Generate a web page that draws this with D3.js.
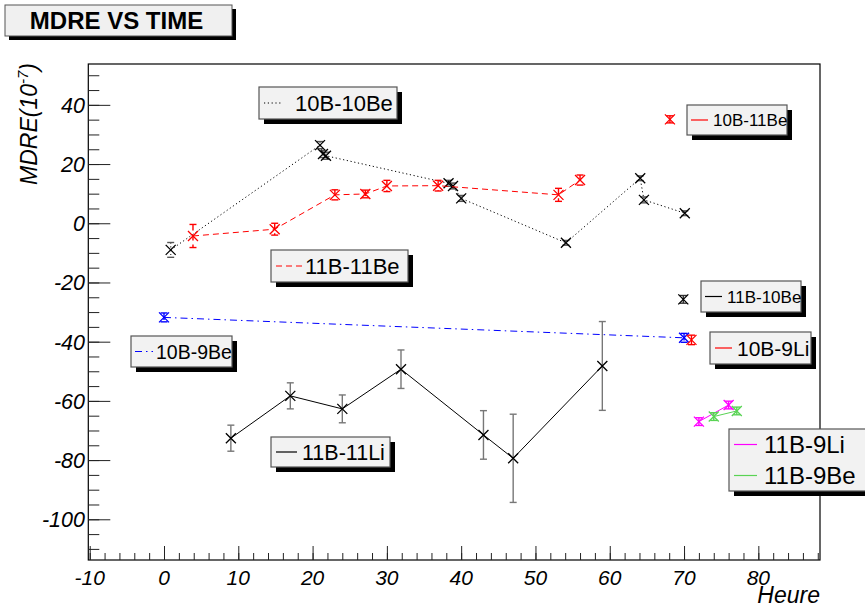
<!DOCTYPE html>
<html>
<head>
<meta charset="utf-8">
<script src="https://cdn.jsdelivr.net/npm/d3@7"></script>
<style>
  html, body { margin: 0; padding: 0; background: #ffffff; }
  svg { display: block; font-family: "Liberation Sans", Arial, Helvetica, sans-serif; }
</style>
</head>
<body>
<svg id="chart" width="865" height="609"></svg>
<script>
// MDRE (in units of 1e-7) measured against elapsed time in hours.
// Each entry: [hour, mdre, error]
const pts10B10Be = [[0.9, -9.0, 2.5], [21.0, 26.4, 1.2], [21.4, 23.4, 1.2], [21.8, 22.8, 1.2],
                    [38.3, 13.5, 1.0], [38.9, 12.6, 1.0], [40.0, 8.4, 1.0], [54.1, -6.6, 0.8],
                    [64.1, 15.2, 0.8], [64.6, 7.9, 1.0], [70.1, 3.4, 0.8]];
const pts11B11Be = [[3.9, -4.3, 3.9], [14.9, -2.0, 2.0], [23.0, 9.6, 1.7], [27.1, 9.9, 1.3],
                    [30.0, 12.6, 1.9], [36.9, 12.7, 1.8], [53.1, 9.6, 2.2], [56.0, 14.6, 1.7]];
const pts10B11Be = [[68.1, 35.1, 1.2]];
const pts11B10Be = [[69.9, -25.7, 1.3]];
const pts10B9Be  = [[0.0, -31.8, 1.5], [70.0, -38.7, 1.5]];
const pts10B9Li  = [[71.0, -39.4, 1.6]];
const pts11B9Li  = [[72.0, -67.0, 1.3], [76.0, -61.4, 1.3]];
const pts11B9Be  = [[74.0, -65.3, 1.3], [77.1, -63.4, 1.3]];
const pts11B11Li = [[9.0, -72.6, 4.4], [17.0, -58.3, 4.4], [24.0, -62.7, 4.7], [31.9, -49.3, 6.5],
                    [43.0, -71.5, 8.2], [47.0, -79.4, 14.9], [59.0, -48.2, 15.0]];

const xTickValues = [-10, 0, 10, 20, 30, 40, 50, 60, 70, 80];
const yTickValues = [-100, -80, -60, -40, -20, 0, 20, 40];

const titleText = "MDRE VS TIME";
const xTitle = "Heure";
const yTitleMain = "MDRE(10";
const yTitleSup = "-7";

// series styling
const series = [
  { name: "10B-10Be", data: pts10B10Be, color: "#000000", dash: "1.2,2.6", barColor: "#555555" },
  { name: "11B-11Be", data: pts11B11Be, color: "#ff0000", dash: "6,4",     barColor: "#ff0000" },
  { name: "10B-11Be", data: pts10B11Be, color: "#ff0000", dash: null,      barColor: "#ff0000" },
  { name: "11B-10Be", data: pts11B10Be, color: "#000000", dash: null,      barColor: "#333333" },
  { name: "10B-9Be",  data: pts10B9Be,  color: "#0000ff", dash: "7,4,1.5,4", barColor: "#0000ff" },
  { name: "10B-9Li",  data: pts10B9Li,  color: "#ff0000", dash: null,      barColor: "#ff0000" },
  { name: "11B-9Li",  data: pts11B9Li,  color: "#ff00ff", dash: null,      barColor: "#ff00ff" },
  { name: "11B-9Be",  data: pts11B9Be,  color: "#59d354", dash: null,      barColor: "#59d354" },
  { name: "11B-11Li", data: pts11B11Li, color: "#000000", dash: null,      barColor: "#777777" }
];
const byName = {};
series.forEach(s => byName[s.name] = s);

// legend boxes: position, size, font size, sample line and text offsets
const legends = [
  { x: 259, y: 87,  w: 138, h: 32, fs: 22,   s0: 5, s1: 24, tx: 36, entries: ["10B-10Be"] },
  { x: 271, y: 250, w: 137, h: 32, fs: 22,   s0: 5, s1: 31, tx: 34, entries: ["11B-11Be"] },
  { x: 687, y: 105, w: 100, h: 30, fs: 17,   s0: 4, s1: 21, tx: 26, entries: ["10B-11Be"] },
  { x: 701, y: 281, w: 100, h: 31, fs: 17,   s0: 4, s1: 21, tx: 26, entries: ["11B-10Be"] },
  { x: 710, y: 332, w: 101, h: 32, fs: 21,   s0: 5, s1: 22, tx: 27, entries: ["10B-9Li"] },
  { x: 131, y: 336, w: 101, h: 31, fs: 19.5, s0: 4, s1: 22, tx: 25, entries: ["10B-9Be"] },
  { x: 271, y: 437, w: 119, h: 30, fs: 21.5, s0: 5, s1: 26, tx: 31, entries: ["11B-11Li"] },
  { x: 729, y: 429, w: 145, h: 62, fs: 24,   s0: 5, s1: 28, tx: 35, entries: ["11B-9Li", "11B-9Be"] }
];

const svg = d3.select("#chart");
const W = 865, H = 609;
const frame = { left: 88.3, right: 820, top: 64, bottom: 560 };

const x = d3.scaleLinear().domain([-10.19, 88.3]).range([frame.left, frame.right]);
const y = d3.scaleLinear().domain([-113.75, 53.8]).range([frame.bottom, frame.top]);

svg.append("rect").attr("width", W).attr("height", H).attr("fill", "#ffffff");

// title box with shadow
const tb = { x: 5, y: 5, w: 227, h: 31 };
svg.append("rect").attr("x", tb.x + 4).attr("y", tb.y + 4).attr("width", tb.w).attr("height", tb.h).attr("fill", "#000");
svg.append("rect").attr("x", tb.x).attr("y", tb.y).attr("width", tb.w).attr("height", tb.h)
  .attr("fill", "#f0f0f0").attr("stroke", "#555").attr("stroke-width", 1);
svg.append("text").attr("x", tb.x + tb.w / 2 - 2).attr("y", tb.y + 24)
  .attr("text-anchor", "middle").attr("font-weight", "bold").attr("font-size", 24)
  .attr("fill", "#000").text(titleText);

// frame
svg.append("rect").attr("x", frame.left).attr("y", frame.top)
  .attr("width", frame.right - frame.left).attr("height", frame.bottom - frame.top)
  .attr("fill", "none").attr("stroke", "#000").attr("stroke-width", 1.2);

// x axis: major every 10 (labelled), minor every 2
const xAxis = d3.axisBottom(x).tickValues(xTickValues).tickSize(-14).tickPadding(0).tickFormat(() => "");
const xAxisMinor = d3.axisBottom(x).tickValues(d3.range(-10, 89, 2)).tickSize(-7).tickFormat(() => "");
[xAxisMinor, xAxis].forEach(ax => {
  const g = svg.append("g").attr("transform", `translate(0,${frame.bottom})`).call(ax);
  g.select(".domain").remove();
  g.selectAll(".tick line").attr("stroke", "#222").attr("stroke-width", 1);
});
svg.append("g").selectAll("text").data(xTickValues).join("text")
  .attr("x", d => x(d)).attr("y", 585)
  .attr("text-anchor", "middle").attr("font-style", "italic").attr("font-size", 21)
  .attr("fill", "#000").text(d => d);

// y axis: major every 20 (labelled), minor every 5
const yAxis = d3.axisLeft(y).tickValues(yTickValues).tickSize(-22).tickFormat(() => "");
const yAxisMinor = d3.axisLeft(y).tickValues(d3.range(-110, 51, 5)).tickSize(-11).tickFormat(() => "");
[yAxisMinor, yAxis].forEach(ax => {
  const g = svg.append("g").attr("transform", `translate(${frame.left},0)`).call(ax);
  g.select(".domain").remove();
  g.selectAll(".tick line").attr("stroke", "#222").attr("stroke-width", 1);
});
svg.append("g").selectAll("text").data(yTickValues).join("text")
  .attr("x", 85).attr("y", d => y(d) + 8)
  .attr("text-anchor", "end").attr("font-style", "italic").attr("font-size", 21.5)
  .attr("fill", "#000").text(d => d);

// axis titles
svg.append("text").attr("x", 820).attr("y", 603).attr("text-anchor", "end")
  .attr("font-style", "italic").attr("font-size", 23).attr("fill", "#000").text(xTitle);

const yt = svg.append("text").attr("transform", "translate(37,63) rotate(-90)")
  .attr("text-anchor", "end").attr("font-style", "italic").attr("font-size", 23).attr("fill", "#000");
yt.append("tspan").text(yTitleMain);
yt.append("tspan").attr("dy", -9).attr("font-size", 15).text(yTitleSup);
yt.append("tspan").attr("dy", 9).text(")");

// data layer
const plot = svg.append("g");
const line = d3.line().x(d => x(d[0])).y(d => y(d[1]));

series.forEach(s => {
  const g = plot.append("g");
  if (s.data.length > 1) {
    g.append("path").datum(s.data).attr("d", line)
      .attr("fill", "none").attr("stroke", s.color).attr("stroke-width", 1)
      .attr("stroke-dasharray", s.dash);
  }
  // error bars
  const eb = g.selectAll("g.eb").data(s.data).join("g").attr("class", "eb");
  eb.append("line")
    .attr("x1", d => x(d[0])).attr("x2", d => x(d[0]))
    .attr("y1", d => y(d[1] + d[2])).attr("y2", d => y(d[1] - d[2]))
    .attr("stroke", s.barColor).attr("stroke-width", 1.4).attr("stroke-dasharray", s.dash);
  [1, -1].forEach(sg => {
    eb.append("line")
      .attr("x1", d => x(d[0]) - 3.5).attr("x2", d => x(d[0]) + 3.5)
      .attr("y1", d => y(d[1] + sg * d[2])).attr("y2", d => y(d[1] + sg * d[2]))
      .attr("stroke", s.barColor).attr("stroke-width", 1.4);
  });
  // X markers
  g.selectAll("path.mk").data(s.data).join("path").attr("class", "mk")
    .attr("transform", d => `translate(${x(d[0])},${y(d[1])})`)
    .attr("d", "M-5,-5L5,5M-5,5L5,-5")
    .attr("fill", "none").attr("stroke", s.color).attr("stroke-width", 1.3);
});

// legends
const defs = svg.append("defs");
legends.forEach((L, i) => {
  const g = svg.append("g");
  g.append("rect").attr("x", L.x + 5).attr("y", L.y + 5).attr("width", L.w).attr("height", L.h).attr("fill", "#000");
  g.append("rect").attr("x", L.x).attr("y", L.y).attr("width", L.w).attr("height", L.h)
    .attr("fill", "#f2f2f2").attr("stroke", "#555").attr("stroke-width", 1.2);
  defs.append("clipPath").attr("id", "lc" + i).append("rect")
    .attr("x", L.x).attr("y", L.y).attr("width", L.w).attr("height", L.h);
  const rowH = L.h / L.entries.length;
  L.entries.forEach((name, k) => {
    const s = byName[name];
    const cy = L.y + rowH * (k + 0.5);
    g.append("line").attr("x1", L.x + L.s0).attr("x2", L.x + L.s1).attr("y1", cy).attr("y2", cy)
      .attr("stroke", s.color).attr("stroke-width", 1.2).attr("stroke-dasharray", s.dash);
    g.append("text").attr("x", L.x + L.tx).attr("y", cy + 0.36 * L.fs)
      .attr("font-size", L.fs).attr("fill", "#000").attr("clip-path", `url(#lc${i})`).text(name);
  });
});
</script>
</body>
</html>
